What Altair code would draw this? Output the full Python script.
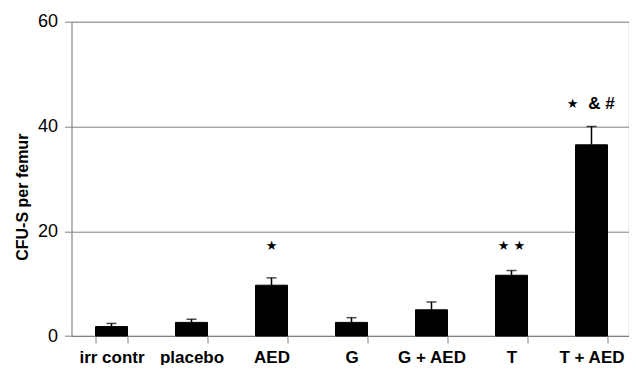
import altair as alt
import pandas as pd

groups = ["irr contr", "placebo", "AED", "G", "G + AED", "T", "T + AED"]
means = [1.8, 2.6, 9.7, 2.6, 5.0, 11.6, 36.5]
upper = [2.4, 3.2, 11.1, 3.5, 6.5, 12.5, 40.0]
stars = ["", "", "★", "", "", "★  ★", "★"]
star_dx = [0, 0, 0, 0, 0, 0, -19]
extra = ["", "", "", "", "", "", "& #"]
mark_y = [17.2, 17.2, 17.2, 17.2, 17.2, 17.2, 44.2]

df = pd.DataFrame({"group": groups, "mean": means, "upper": upper,
                   "star": stars, "star_dx": star_dx, "extra": extra,
                   "mark_y": mark_y})

font = "Liberation Sans"
xenc = alt.X("group:N", sort=groups, title=None,
             scale=alt.Scale(paddingInner=0.6, paddingOuter=0.3,
                             range=[0, 560]),
             axis=alt.Axis(labelAngle=0, labelFont=font, labelFontSize=17,
                           labelFontWeight="bold", labelColor="black",
                           labelPadding=6, tickBand="extent", tickSize=7,
                           tickColor="#808080", domainColor="#808080",
                           grid=False))

yscale = alt.Scale(domain=[0, 60])
yaxis = alt.Axis(values=[0, 20, 40, 60], grid=True, gridColor="#808080",
                 gridWidth=1, labelFont=font, labelFontSize=18,
                 labelColor="black", tickSize=7, tickColor="#808080",
                 domainColor="#808080", labelPadding=7, titleFont=font,
                 titleFontSize=16, titleFontWeight="bold", titleColor="black",
                 titlePadding=7, titleY=175)

base = alt.Chart(df)
xg = alt.X("group:N", sort=groups)

bars = base.mark_bar(color="black", stroke="black").encode(
    x=xenc,
    y=alt.Y("mean:Q", scale=yscale, axis=yaxis, title="CFU-S per femur"),
)
err = base.mark_rule(color="black", strokeWidth=1.5).encode(
    x=xg, y="mean:Q", y2="upper:Q")
caps = base.mark_tick(color="black", orient="horizontal", size=10,
                      thickness=1.5).encode(x=xg, y="upper:Q")
star_txt = base.transform_filter("datum.star_dx == 0").mark_text(
    font="DejaVu Sans", fontSize=13, color="black", baseline="middle").encode(
    x=xg, y="mark_y:Q", text="star:N")
star_txt2 = base.transform_filter("datum.star_dx != 0").mark_text(
    font="DejaVu Sans", fontSize=13, color="black", baseline="middle",
    dx=-19).encode(x=xg, y="mark_y:Q", text="star:N")
extra_txt = base.mark_text(font=font, fontSize=17, fontWeight="bold",
                           color="black", baseline="middle", dx=10).encode(
    x=xg, y="mark_y:Q", text="extra:N")

chart = alt.layer(bars, err, caps, star_txt, star_txt2, extra_txt).properties(
    width=557, height=314.3,
    autosize=alt.AutoSizeParams(type="none"),
    padding={"left": 63.5, "top": 13.7, "right": 0, "bottom": 29},
).configure_view(stroke=None).configure(background="white")

chart.save("out.html", embed_options={"renderer": "svg", "actions": False})
